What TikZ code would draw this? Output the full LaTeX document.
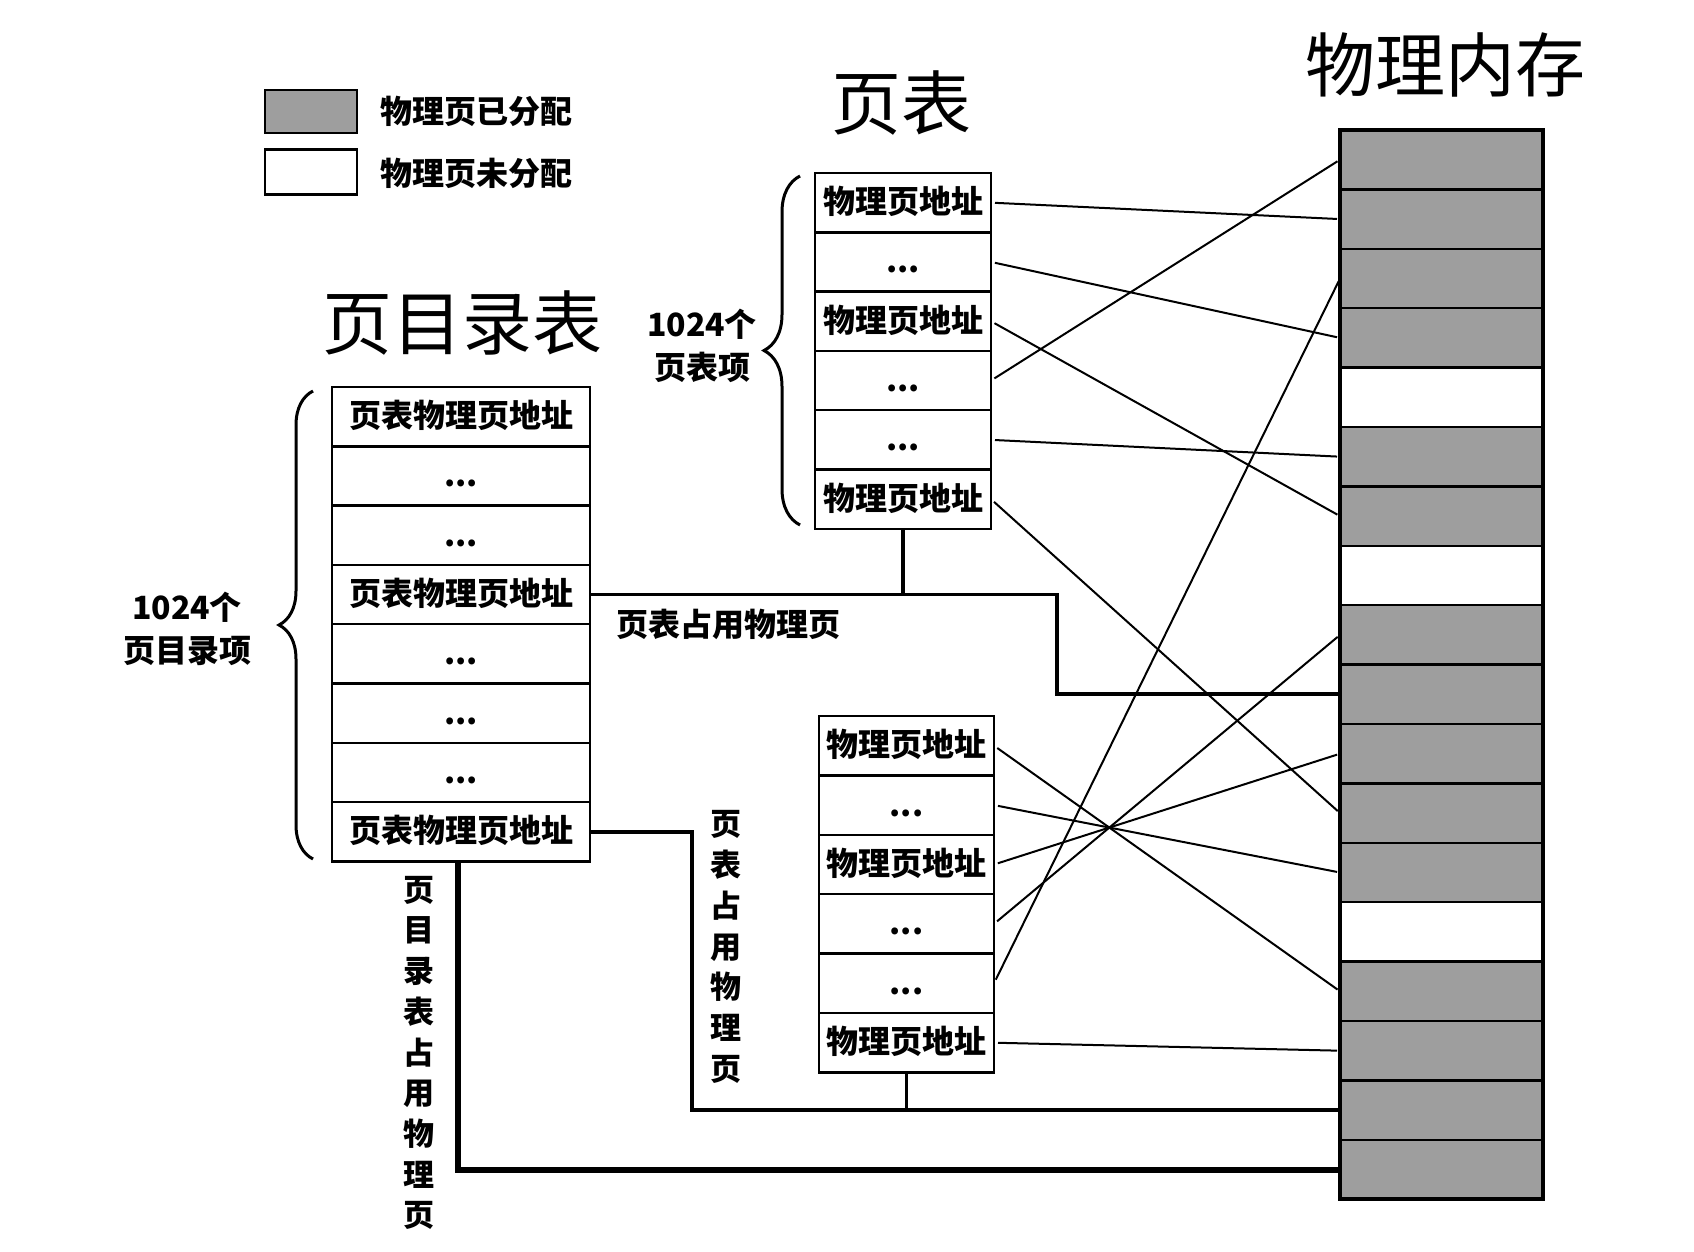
\documentclass[tikz,border=0pt]{standalone}
\usepackage{fontspec}
\newfontfamily\cjk{Noto Sans CJK SC}
\usetikzlibrary{decorations.pathreplacing}
\definecolor{memgray}{RGB}{158,158,158}
\newcommand{\celldots}{...}
\begin{document}
\begin{tikzpicture}[x=1pt,y=-1pt,
  cell/.style={draw, line width=2.4pt, inner sep=0pt, outer sep=0pt,
    minimum height=59.3pt, text height=23pt, text depth=1pt,
    font=\cjk\bfseries\fontsize{32}{38}\selectfont},
  memcell/.style={draw, line width=2.4pt, inner sep=0pt, outer sep=0pt,
    minimum width=203pt, minimum height=59.4pt},
  legbox/.style={draw, line width=2.6pt, inner sep=0pt, outer sep=0pt, minimum width=92pt},
  lbl/.style={font=\cjk\bfseries\fontsize{32}{43}\selectfont, align=center, inner sep=0pt},
  vlbl/.style={font=\cjk\bfseries\fontsize{31}{40.7}\selectfont, align=center, inner sep=0pt},
  title/.style={font=\cjk\fontsize{70}{80}\selectfont, inner sep=0pt},
  thinline/.style={line width=2pt, shorten <=4pt, shorten >=3pt},
  thk/.style={line width=3.8pt},
  thkk/.style={line width=6pt},
  bracestyle/.style={line width=3pt, decorate, decoration={brace, amplitude=#1}}
]
\fill[white] (0,0) rectangle (1694,1252);
\useasboundingbox (0,0) rectangle (1694,1252);

% legend
\node[legbox, fill=memgray, minimum height=43pt] (lg1) at (311,111.5) {};
\node[legbox, fill=white, minimum height=45pt] (lg2) at (311,172) {};
\node[lbl, anchor=west] (lt1) at (380,111) {物理页已分配};
\node[lbl, anchor=west] (lt2) at (380,173) {物理页未分配};

% titles
\node[title] (tdir) at (462,323) {页目录表};
\node[title] (tpt) at (901,103) {页表};
\node[title] (tmem) at (1445,65) {物理内存};

% page directory
\foreach \t [count=\i] in {页表物理页地址,\celldots,\celldots,页表物理页地址,\celldots,\celldots,\celldots,页表物理页地址}
  \node[cell, minimum width=258pt] (d\i) at (461,{387+59.3*\i-29.65}) {\t};

% upper page table
\foreach \t [count=\i] in {物理页地址,\celldots,物理页地址,\celldots,\celldots,物理页地址}
  \node[cell, minimum width=176pt] (u\i) at (903,{173+59.3*\i-29.65}) {\t};

% lower page table
\foreach \t [count=\i] in {物理页地址,\celldots,物理页地址,\celldots,\celldots,物理页地址}
  \node[cell, minimum width=175pt] (l\i) at (906.5,{716+59.4*\i-29.7}) {\t};

% physical memory
\foreach \c [count=\i] in {memgray,memgray,memgray,memgray,white,memgray,memgray,white,memgray,memgray,memgray,memgray,memgray,white,memgray,memgray,memgray,memgray}
  \node[memcell, fill=\c] (m\i) at (1441.5,{130+59.4*\i-29.7}) {};
\draw[line width=3.5pt] (m1.north west) rectangle (m18.south east);

% braces and counts
\draw[bracestyle=34pt] (313,859) -- (313,391);
\draw[bracestyle=36pt] (800,525) -- (800,176);
\node[lbl] (cnt1) at (187,628.5) {1024个\\页目录项};
\node[lbl] (cnt2) at (702,345.5) {1024个\\页表项};

% mapping lines
\draw[thinline] (u1.east) -- (m2.west);
\draw[thinline] (u2.east) -- (m4.west);
\draw[thinline] (u3.east) -- (m7.west);
\draw[thinline] (u4.east) -- (m1.west);
\draw[thinline] (u5.east) -- (m6.west);
\draw[thinline] (u6.east) -- (m12.west);
\draw[thinline] (l1.east) -- (m15.west);
\draw[thinline] (l2.east) -- (m13.west);
\draw[thinline] (l3.east) -- (m11.west);
\draw[thinline] (l4.east) -- (m9.west);
\draw[thinline] (l5.east) -- (m3.west);
\draw[thinline] (l6.east) -- (m16.west);

% page table occupied pages
\coordinate (c1) at (1057,0);
\coordinate (c2) at (692,0);
\coordinate (c3) at (458,0);
\draw[thk] (d4.east) -- (d4.east -| c1) -- (c1 |- m10.west) -- (m10.west);
\draw[thk] (u6.south) -- (u6.south |- d4.east);
\draw[thk] (d8.east) -- (d8.east -| c2) -- (c2 |- m17.west) -- (m17.west);
\draw[thk] (l6.south) -- (l6.south |- m17.west);
\draw[thkk] (c3 |- d8.south) -- (c3 |- m18.west) -- (m18.west);

\node[lbl] (occ1) at (728,624) {页表占用物理页};
\node[vlbl] (occ2) at (726,947) {页\\表\\占\\用\\物\\理\\页};
\node[vlbl] (occ3) at (419,1053) {页\\目\\录\\表\\占\\用\\物\\理\\页};
\end{tikzpicture}
\end{document}
